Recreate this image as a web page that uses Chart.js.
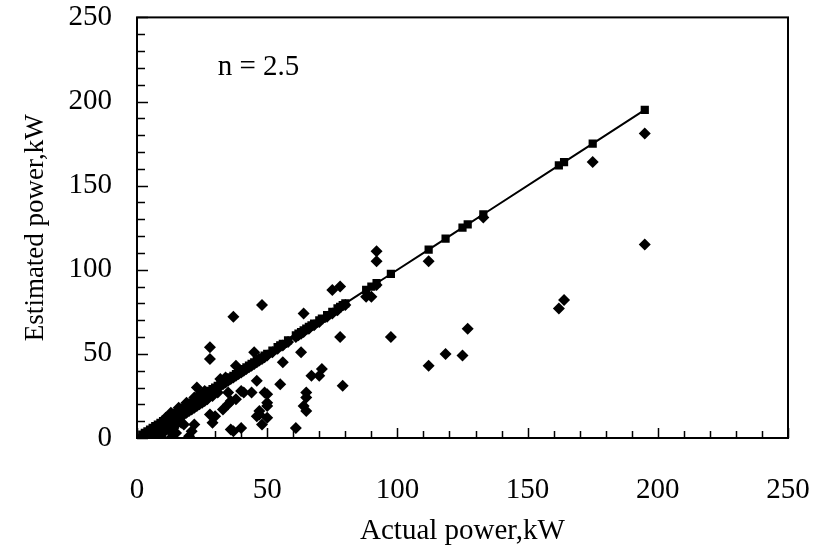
<!DOCTYPE html>
<html>
<head>
<meta charset="utf-8">
<script src="https://cdn.jsdelivr.net/npm/chart.js@4"></script>
<style>
html, body { margin: 0; padding: 0; background: #fff; }
#wrap { width: 816px; height: 553px; }
</style>
</head>
<body>
<div id="wrap"><canvas id="powerChart" width="816" height="553"></canvas></div>
<script>
// Actual power (kW) for each sample and the estimated power for the same sample
const actualPower = [
    2, 3, 4, 5, 5, 6, 6, 7, 7, 8, 8, 9, 9, 9, 10, 10, 10, 11, 11, 11,
    12, 12, 12, 13, 13, 13, 13, 14, 14, 14, 15, 15, 15, 15, 16, 16, 16, 17, 17, 17,
    18, 18, 18, 19, 19, 19, 20, 20, 20, 20, 21, 21, 21, 22, 22, 22, 22, 23, 23, 23,
    24, 24, 24, 25, 25, 26, 26, 26, 27, 27, 28, 28, 28, 28, 29, 29, 29, 30, 30, 31,
    31, 32, 32, 33, 33, 34, 34, 35, 35, 35, 36, 36, 36, 37, 37, 37, 38, 38, 38, 39,
    40, 40, 40, 41, 41, 42, 43, 44, 44, 45, 45, 46, 46, 46, 47, 47, 47, 48, 48, 48,
    49, 49, 50, 50, 50, 50, 50,
    52, 54, 55, 56, 56, 58, 61, 61, 62, 63, 63, 64, 64, 64, 65, 65, 65, 66, 67, 68,
    70, 70, 71, 73, 75, 75, 77, 78, 78, 79, 80, 88, 90, 92, 92, 92, 97.5,
    112, 112, 118.5, 125, 127, 133, 162, 164, 175, 195, 195
];
const estimatedPower = [
    1, 1, 3, 2, 4, 5, 3, 6, 2, 7, 4, 8, 5, 1, 9, 6, 3, 10, 7, 12,
    11, 8, 5, 12, 9, 0, 15, 13, 10, 6, 14, 11, 8, 3, 15, 12, 18, 16, 13, 9,
    17, 14, 8, 18, 15, 21, 19, 16, 0, 1, 20, 17, 4, 21, 18, 8, 24, 22, 19, 30,
    23, 20, 26, 24, 21, 25, 22, 28, 26, 23, 27, 54, 47, 14, 28, 25, 9, 29, 13, 30,
    27, 31, 35, 32, 17, 33, 36, 34, 27, 20, 35, 22, 5, 36, 72, 4, 37, 43, 23, 38,
    39, 28, 6, 40, 27, 41, 42, 43, 27, 44, 51, 45, 34, 13, 46, 16, 14, 47, 79, 8,
    48, 27, 49, 26, 21, 19, 12,
    51, 53, 32, 55, 45, 57, 60, 6, 61, 62, 51, 63, 74, 19, 16, 24, 27, 65, 37, 67,
    69, 37, 41, 72, 74, 88, 76, 90, 60, 31, 79, 84, 84, 91, 111, 105, 60,
    105, 43, 50, 49, 65, 131, 77, 82, 164, 181, 115
];
const axisLabels = [0, 50, 100, 150, 200, 250];
const xTitle = 'Actual power,kW';
const yTitle = 'Estimated power,kW';
const noteText = 'n = 2.5';

const serif = "'Times New Roman', 'Liberation Serif', serif";
const fontSize = 29;

// the 1:1 line goes through every actual value
const lineValues = [...new Set(actualPower)].sort((a, b) => a - b);

const framePlugin = {
    id: 'frame',
    afterDraw(chart) {
        const ctx = chart.ctx;
        const area = chart.chartArea;
        const xs = chart.scales.x;
        const ys = chart.scales.y;
        ctx.save();
        ctx.strokeStyle = '#000';
        ctx.lineWidth = 2;
        ctx.strokeRect(area.left, area.top, area.right - area.left, area.bottom - area.top);

        // ticks pointing into the plot, every 10 kW, longer every 50
        ctx.lineWidth = 1.5;
        ctx.beginPath();
        for (let v = xs.min; v <= xs.max; v += 10) {
            const len = v % 50 === 0 ? 10 : 7;
            const px = Math.round(xs.getPixelForValue(v)) + 0.5;
            ctx.moveTo(px, area.bottom);
            ctx.lineTo(px, area.bottom - len);
        }
        for (let v = ys.min; v <= ys.max; v += 10) {
            const len = v % 50 === 0 ? 11 : 8;
            const py = Math.round(ys.getPixelForValue(v)) + 0.5;
            ctx.moveTo(area.left, py);
            ctx.lineTo(area.left + len, py);
        }
        ctx.stroke();

        ctx.fillStyle = '#000';
        ctx.font = fontSize + 'px ' + serif;
        ctx.textBaseline = 'alphabetic';
        ctx.fillText(noteText, xs.getPixelForValue(31), ys.getPixelForValue(216));
        ctx.restore();
    }
};

// invisible tick marks are used as the gap between the frame and the labels
const hiddenGrid = len => ({
    display: true,
    drawOnChartArea: false,
    drawTicks: true,
    tickLength: len,
    color: 'rgba(0,0,0,0)'
});

new Chart(document.getElementById('powerChart'), {
    type: 'scatter',
    data: {
        datasets: [
            {
                label: 'Estimated',
                data: actualPower.map((a, i) => ({ x: a, y: estimatedPower[i] })),
                pointStyle: 'rectRot',
                pointRadius: 6,
                pointBorderWidth: 0,
                backgroundColor: '#000',
                borderColor: '#000'
            },
            {
                label: 'Actual',
                data: lineValues.map(a => ({ x: a, y: a })),
                showLine: true,
                borderColor: '#000',
                borderWidth: 2,
                pointStyle: 'rect',
                pointRadius: 5.8,
                pointBorderWidth: 0,
                backgroundColor: '#000'
            }
        ]
    },
    options: {
        responsive: false,
        animation: false,
        devicePixelRatio: 1,
        layout: { padding: { top: 17, right: 28, left: 0, bottom: 0 } },
        plugins: { legend: { display: false }, tooltip: { enabled: false } },
        scales: {
            x: {
                min: 0,
                max: 250,
                grid: hiddenGrid(35),
                border: { display: false },
                afterFit: scale => { scale.height = 115; },
                afterBuildTicks: scale => { scale.ticks = axisLabels.map(v => ({ value: v })); },
                ticks: { color: '#000', padding: 0, font: { family: serif, size: fontSize } },
                title: { display: true, text: xTitle, color: '#000', padding: { bottom: 4 }, font: { family: serif, size: fontSize } }
            },
            y: {
                min: 0,
                max: 250,
                grid: hiddenGrid(25),
                border: { display: false },
                afterFit: scale => { scale.width = 137; },
                afterBuildTicks: scale => { scale.ticks = axisLabels.map(v => ({ value: v })); },
                ticks: { color: '#000', padding: 0, font: { family: serif, size: fontSize } },
                title: { display: true, text: yTitle, color: '#000', padding: { top: 20 }, font: { family: serif, size: 27 } }
            }
        }
    },
    plugins: [framePlugin]
});
</script>
</body>
</html>
